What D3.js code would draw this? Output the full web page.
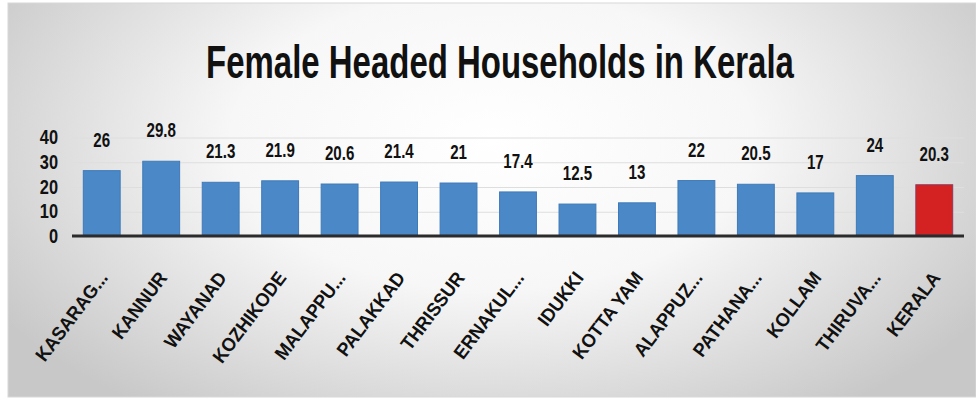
<!DOCTYPE html>
<html>
<head>
<meta charset="utf-8">
<script src="https://cdn.jsdelivr.net/npm/d3@7"></script>
<style>
  * { margin: 0; padding: 0; box-sizing: border-box; }
  body { width: 976px; height: 401px; background: #fff; overflow: hidden; }
  svg { display: block; font-family: "Liberation Sans", Arial, sans-serif; }
  .grid line { stroke: #dedede; stroke-width: 1; }
  .val { font-size: 21px; font-weight: 700; fill: #111; text-anchor: middle; }
  .ytick { font-size: 21px; font-weight: 700; fill: #111; text-anchor: end; }
  .xlab { font-size: 19px; font-weight: 700; fill: #111; text-anchor: end; }
</style>
</head>
<body>
<svg id="chart" width="976" height="401"></svg>
<script>
const districts = ["KASARAG...", "KANNUR", "WAYANAD", "KOZHIKODE", "MALAPPU...", "PALAKKAD", "THRISSUR",
  "ERNAKUL...", "IDUKKI", "KOTTA YAM", "ALAPPUZ...", "PATHANA...", "KOLLAM", "THIRUVA...", "KERALA"];
const values = [26, 29.8, 21.3, 21.9, 20.6, 21.4, 21, 17.4, 12.5, 13, 22, 20.5, 17, 24, 20.3];
const yTicks = [0, 10, 20, 30, 40];
const title = "Female Headed Households in Kerala";

const W = 976, H = 401;
const svg = d3.select("#chart");

// panel background
const defs = svg.append("defs");
const grad = defs.append("radialGradient")
  .attr("id", "bg").attr("cx", "50%").attr("cy", "35%").attr("r", "60%")
  .attr("gradientTransform", "translate(0.5,0.35) scale(1,1.4) translate(-0.5,-0.35)");
grad.append("stop").attr("offset", "0%").attr("stop-color", "#ffffff");
grad.append("stop").attr("offset", "45%").attr("stop-color", "#f7f7f7");
grad.append("stop").attr("offset", "100%").attr("stop-color", "#c8c8c8");

svg.append("rect").attr("x", 8).attr("y", 3).attr("width", W - 8).attr("height", 394)
  .attr("fill", "url(#bg)").attr("stroke", "#d8d8d8").attr("stroke-width", 1);

// title, squeezed to the reference width
const t = svg.append("text")
  .attr("text-anchor", "middle")
  .attr("font-size", 46).attr("font-weight", 700).attr("fill", "#111")
  .text(title);
const tw = t.node().getComputedTextLength();
t.attr("transform", `translate(500,78) scale(${588 / tw},1)`);

const x = d3.scaleBand().domain(districts).range([72, 964]).paddingInner(0.38).paddingOuter(0.19);
const y = d3.scaleLinear().domain([0, 40]).range([235, 136]);

// gridlines
svg.append("g").attr("class", "grid")
  .selectAll("line").data(yTicks.filter(d => d > 0)).join("line")
  .attr("x1", 72).attr("x2", 964)
  .attr("y1", d => y(d) + 2).attr("y2", d => y(d) + 2);

// y tick labels
svg.append("g").selectAll("text").data(yTicks).join("text")
  .attr("class", "ytick")
  .attr("transform", d => `translate(58,${y(d) + 8}) scale(0.78,1)`)
  .text(d => d);

// bars
svg.append("g").selectAll("rect").data(values).join("rect")
  .attr("x", (d, i) => x(districts[i]))
  .attr("y", d => y(d))
  .attr("width", x.bandwidth())
  .attr("height", d => y(0) - y(d))
  .attr("fill", (d, i) => districts[i] === "KERALA" ? "#d42222" : "#4a88c7")
  .attr("stroke", (d, i) => districts[i] === "KERALA" ? "#8c3a5a" : "#3f7ab8")
  .attr("stroke-width", 1);

// baseline
svg.append("line").attr("x1", 72).attr("x2", 964).attr("y1", y(0) + 1).attr("y2", y(0) + 1)
  .attr("stroke", "#2b2b2b").attr("stroke-width", 3);

// value labels
svg.append("g").selectAll("text").data(values).join("text")
  .attr("class", "val")
  .attr("transform", (d, i) => `translate(${x(districts[i]) + x.bandwidth() / 2},${y(d) - 24}) scale(0.72,1)`)
  .text(d => d);

// category labels
svg.append("g").selectAll("text").data(districts).join("text")
  .attr("class", "xlab")
  .attr("transform", d => `translate(${x(d) + x.bandwidth() / 2 + 7},${y(0) + 43}) rotate(-53) scale(0.95,1)`)
  .text(d => d);
</script>
</body>
</html>
